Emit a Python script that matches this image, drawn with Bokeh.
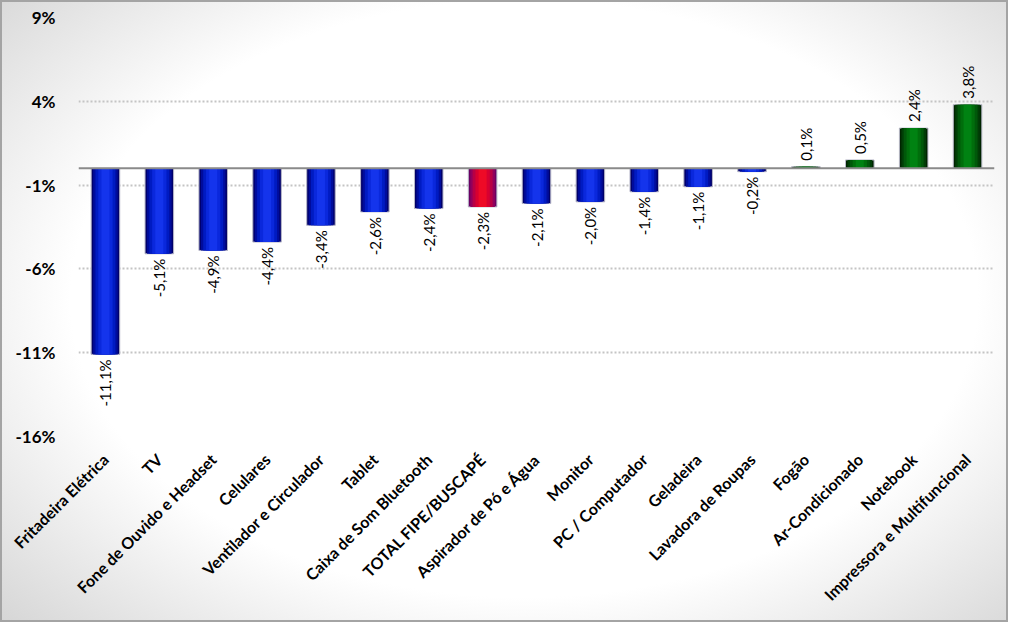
from bokeh.plotting import figure
from bokeh.models import ColumnDataSource, FixedTicker, CustomJSTickFormatter, Span
from bokeh.core.properties import value
from bokeh.embed import file_html
from bokeh.resources import INLINE
import math

categories = ["Fritadeira Elétrica", "TV", "Fone de Ouvido e Headset", "Celulares",
              "Ventilador e Circulador", "Tablet", "Caixa de Som Bluetooth",
              "TOTAL FIPE/BUSCAPÉ", "Aspirador de Pó e Água", "Monitor",
              "PC / Computador", "Geladeira", "Lavadora de Roupas", "Fogão",
              "Ar-Condicionado", "Notebook", "Impressora e Multifuncional"]
values = [-11.1, -5.1, -4.9, -4.4, -3.4, -2.6, -2.4, -2.3, -2.1, -2.0,
          -1.4, -1.1, -0.2, 0.1, 0.5, 2.4, 3.8]
total_name = "TOTAL FIPE/BUSCAPÉ"
y_ticks = [9, 4, -1, -6, -11, -16]

FONT = "Lato"

palettes = {
    "blue": ["#00006a", "#000c9c", "#001bc2", "#0a28dc", "#1434ec"],
    "red": ["#6a0064", "#92005c", "#b80044", "#d80030", "#ee0a26"],
    "green": ["#002400", "#003e06", "#00580a", "#006e0c", "#008212"],
}
widths = [1.0, 0.86, 0.7, 0.5, 0.28]
BAR_W = 0.53

def kind(c, v):
    if c == total_name:
        return "red"
    return "blue" if v < 0 else "green"

kinds = [kind(c, v) for c, v in zip(categories, values)]

p = figure(x_range=categories, y_range=(-16, 9), width=1008, height=622,
           frame_width=916, frame_height=419,
           min_border_left=78, min_border_right=14, min_border_top=17, min_border_bottom=186,
           output_backend="svg", toolbar_location=None)

p.styles = {
    "background": "radial-gradient(ellipse 75% 80% at 52% 48%, #ffffff 60%, #d0d0d0 100%)",
    "box-shadow": "inset 0 0 0 2px #a4a4a4",
}
p.border_fill_alpha = 0
p.background_fill_alpha = 0
p.outline_line_color = None

# bars with layered pseudo-gradient
for i, w in enumerate(widths):
    src = ColumnDataSource(dict(x=categories, top=values,
                                color=[palettes[k][i] for k in kinds]))
    if i == 0:
        p.vbar(x="x", top="top", bottom=0, width=BAR_W * w, source=src,
               fill_color="color", line_color="#b8b8c8", line_width=1)
    else:
        p.vbar(x="x", top="top", bottom=0, width=BAR_W * w, source=src,
               fill_color="color", line_color=None)

zero = Span(location=0, dimension="width", line_color="#8a8a8a", line_width=2)
p.add_layout(zero)

# value labels
labels = [f"{v:.1f}".replace(".", ",") + "%" for v in values]
neg_idx = [i for i, v in enumerate(values) if v < 0]
pos_idx = [i for i, v in enumerate(values) if v >= 0]
src_neg = ColumnDataSource(dict(x=[categories[i] for i in neg_idx],
                                y=[values[i] for i in neg_idx],
                                t=[labels[i] for i in neg_idx]))
src_pos = ColumnDataSource(dict(x=[categories[i] for i in pos_idx],
                                y=[values[i] for i in pos_idx],
                                t=[labels[i] for i in pos_idx]))
p.text(x="x", y="y", text="t", source=src_neg, angle=math.pi / 2,
       text_align="right", text_baseline="middle", y_offset=5,
       text_font=value(FONT), text_font_size="15px", text_color="#000000")
p.text(x="x", y="y", text="t", source=src_pos, angle=math.pi / 2,
       text_align="left", text_baseline="middle", y_offset=-6,
       text_font=value(FONT), text_font_size="15px", text_color="#000000")

# axes
p.yaxis.ticker = FixedTicker(ticks=y_ticks)
p.yaxis.formatter = CustomJSTickFormatter(code="return tick.toFixed(0) + '%';")
p.yaxis.axis_line_color = None
p.yaxis.major_tick_line_color = None
p.yaxis.minor_tick_line_color = None
p.yaxis.major_label_standoff = 17
p.yaxis.major_label_text_font = FONT
p.yaxis.major_label_text_font_size = "17px"
p.yaxis.major_label_text_font_style = "bold"
p.yaxis.major_label_text_color = "#000000"

p.xaxis.axis_line_color = None
p.xaxis.major_tick_line_color = None
p.xaxis.minor_tick_line_color = None
p.xaxis.major_label_orientation = math.pi / 4
p.xaxis.major_label_standoff = 14
p.xaxis.major_label_text_font = FONT
p.xaxis.major_label_text_font_size = "16px"
p.xaxis.major_label_text_font_style = "bold"
p.xaxis.major_label_text_color = "#000000"

p.xgrid.grid_line_color = None
p.ygrid.grid_line_color = "#c4c4c4"
p.ygrid.grid_line_dash = "2 2"
p.ygrid.grid_line_width = 2
p.ygrid.ticker = FixedTicker(ticks=y_ticks)

open("out.html", "w").write(file_html(p, INLINE))
